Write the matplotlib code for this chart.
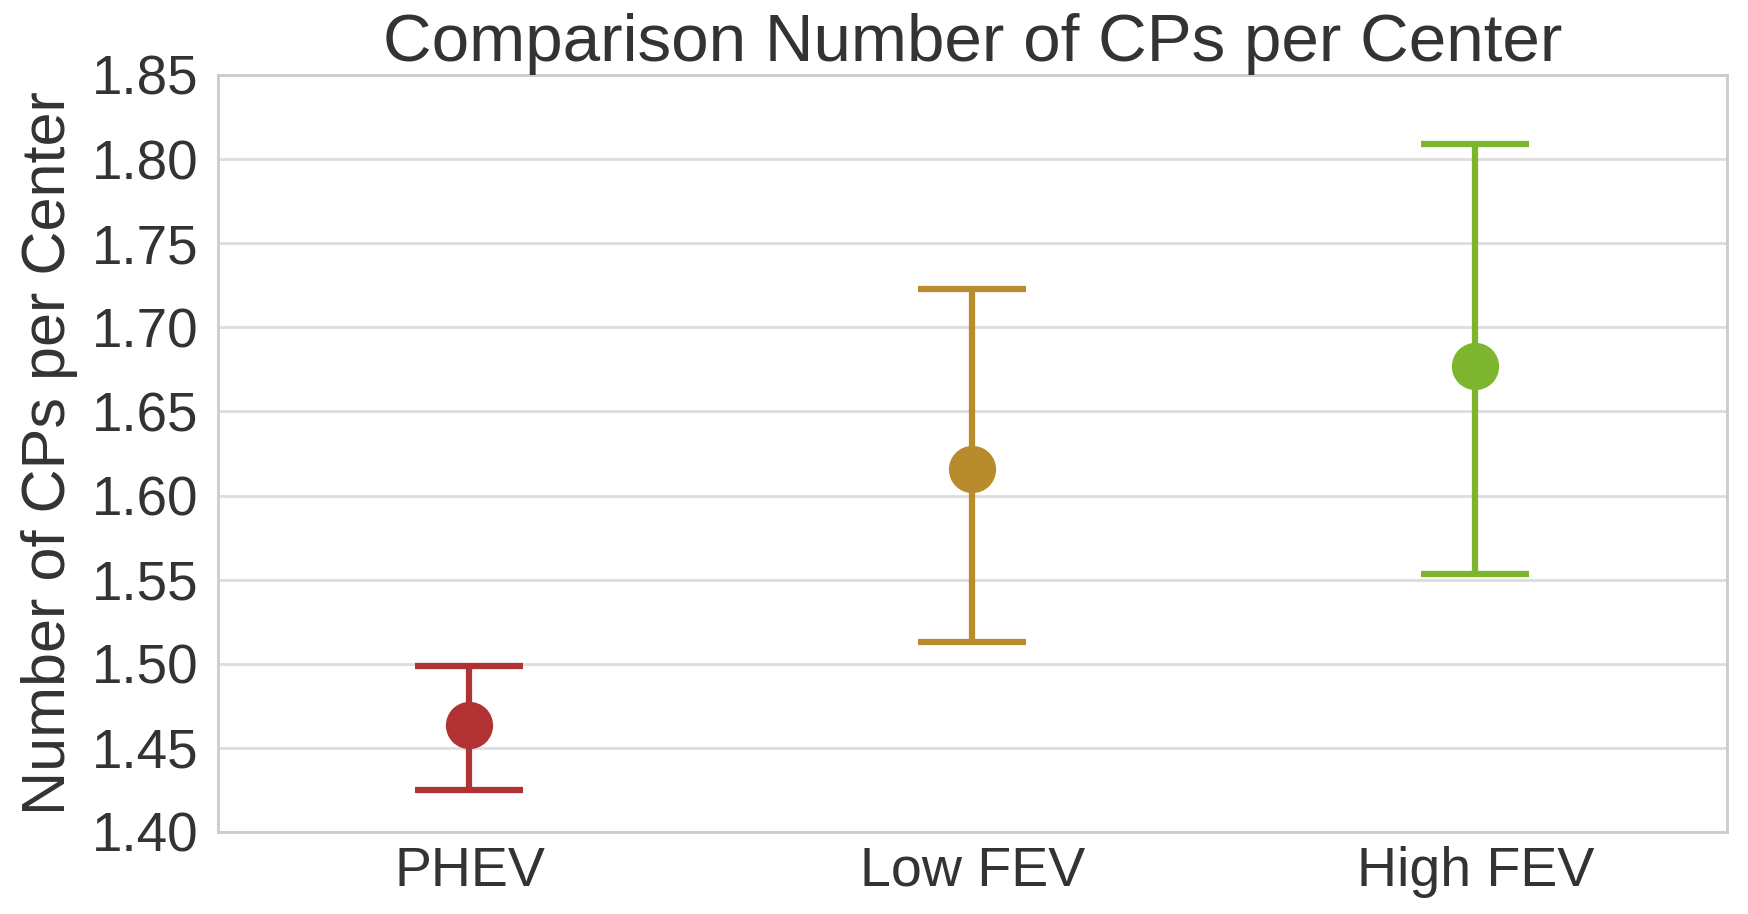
import matplotlib
matplotlib.use("Agg")
import matplotlib.pyplot as plt
import numpy as np

categories = ["PHEV", "Low FEV", "High FEV"]
means = [1.4635, 1.616, 1.677]
lower = [1.425, 1.513, 1.5535]
upper = [1.4985, 1.7225, 1.809]
colors = ["#b03232", "#b88b2c", "#7db62e"]
yticks = [1.40, 1.45, 1.50, 1.55, 1.60, 1.65, 1.70, 1.75, 1.80, 1.85]

plt.rcParams['font.family'] = ['Liberation Sans', 'DejaVu Sans']

fig = plt.figure(figsize=(17.49, 9.14), dpi=100)
L, R, T, B = 218, 1727, 75, 832
ax = fig.add_axes([L/1749, 1 - B/914, (R-L)/1749, (B-T)/914])

x = np.arange(len(categories))
for i in range(len(categories)):
    ax.errorbar(x[i], means[i],
                yerr=[[means[i] - lower[i]], [upper[i] - means[i]]],
                fmt='o', color=colors[i], markersize=33, elinewidth=4.5,
                capsize=39, capthick=4.5, zorder=3)

ax.set_xlim(-0.5, 2.5)
ax.set_ylim(1.40, 1.85)
ax.set_yticks(yticks)
ax.set_yticklabels([f"{v:.2f}" for v in yticks])
ax.set_xticks(x)
ax.set_xticklabels(categories)
ax.tick_params(axis='y', labelsize=39.5, colors='#333333', length=0, pad=14)
ax.tick_params(axis='x', labelsize=40, colors='#333333', length=0, pad=10)
ax.yaxis.grid(True, color='#dddddd', linewidth=2)
ax.xaxis.grid(False)
ax.set_axisbelow(True)
for s in ax.spines.values():
    s.set_color('#cccccc')
    s.set_linewidth(2)
ax.set_ylabel("Number of CPs per Center", fontsize=44, color='#333333', labelpad=10)
ax.set_title("Comparison Number of CPs per Center", fontsize=48.5, color='#333333', pad=8)

fig.savefig("out.png", dpi=100, facecolor='white')
